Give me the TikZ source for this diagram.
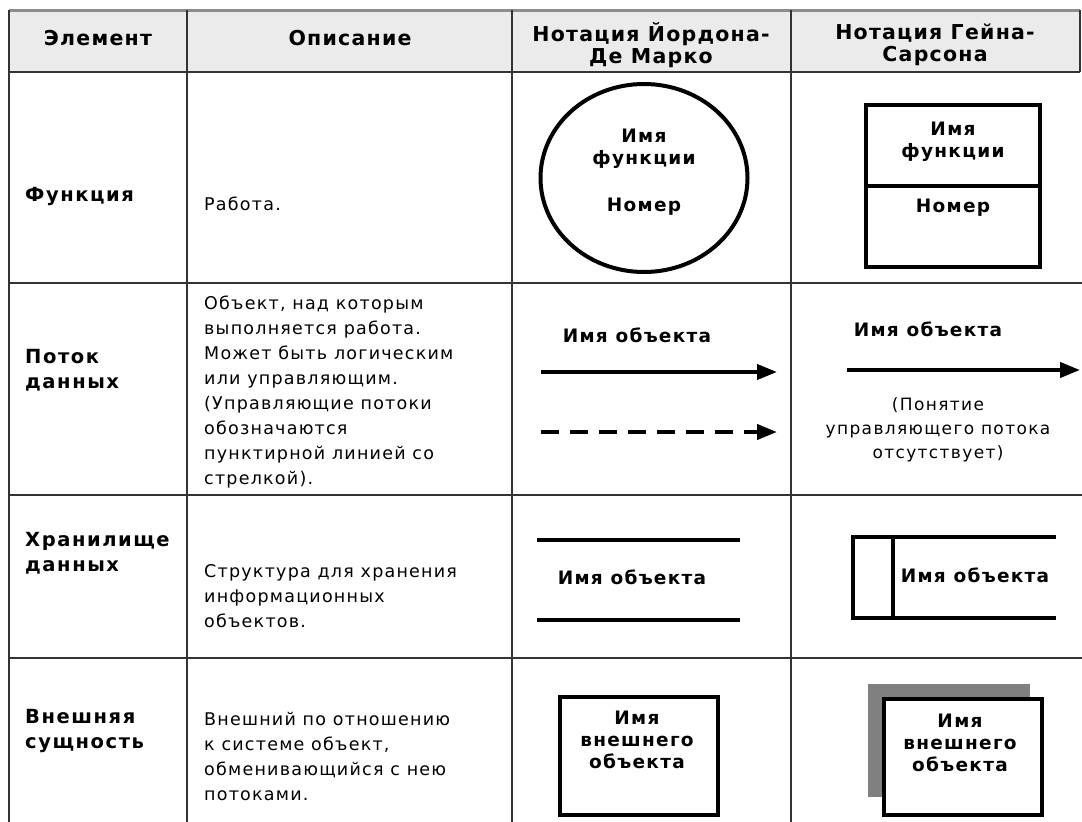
\documentclass[tikz,border=0pt]{standalone}
\usepackage{fontspec}
\setmainfont{DejaVu Sans}
\usetikzlibrary{arrows.meta,shapes.geometric}
\begin{document}
\begin{tikzpicture}[x=1pt,y=-1pt,
  grid/.style={draw=black!80, line width=1.8pt},
  shp/.style={draw=black, line width=4pt},
  hdr/.style={font=\addfontfeatures{LetterSpace=6}\bfseries\fontsize{20.5}{22}\selectfont, align=center, inner sep=0pt},
  lbl/.style={font=\addfontfeatures{LetterSpace=8}\bfseries\fontsize{19.5}{25}\selectfont, align=left, anchor=west, inner sep=0pt},
  desc/.style={font=\addfontfeatures{LetterSpace=7}\fontsize{17.5}{25}\selectfont, align=left, anchor=west, inner sep=0pt},
  sym/.style={font=\addfontfeatures{LetterSpace=7}\bfseries\fontsize{18.5}{22}\selectfont, align=center, inner sep=0pt},
  note/.style={font=\addfontfeatures{LetterSpace=8}\fontsize{17}{24}\selectfont, align=center, inner sep=0pt},
  flow/.style={line width=4pt, -{Triangle[length=20pt,width=15pt]}},
]
\useasboundingbox (0,0) rectangle (1082,822);
\fill[white] (0,0) rectangle (1082,822);
% header
\fill[black!8] (9,10) rectangle (1080,72);
\draw[black!45, line width=3pt] (9,10) -- (1080,10);
\draw[grid] (9,72) -- (1080,72);
\draw[grid] (1080,10) -- (1080,72);
\foreach \y in {283,495,658} \draw[grid] (9,\y) -- (1082,\y);
\foreach \x in {9,187,512,791} \draw[grid] (\x,10) -- (\x,822);

\node[hdr] (h1) at (98,38) {Элемент};
\node[hdr] (h2) at (350,38) {Описание};
\node[hdr] (h3) at (651,45) {Нотация Йордона-\\Де Марко};
\node[hdr] (h4) at (935,45) {Нотация Гейна-\\Сарсона};

% column 1
\node[lbl] (l1) at (25,196) {Функция};
\node[lbl] (l2) at (25,370) {Поток\\данных};
\node[lbl] (l3) at (25,553) {Хранилище\\данных};
\node[lbl] (l4) at (25,731) {Внешняя\\сущность};

% column 2
\node[desc] (d1) at (204,204) {Работа.};
\node[desc] (d2) at (204,392) {Объект, над которым\\выполняется работа.\\Может быть логическим\\или управляющим.\\(Управляющие потоки\\обозначаются\\пунктирной линией со\\стрелкой).};
\node[desc] (d3) at (204,596) {Структура для хранения\\информационных\\объектов.};
\node[desc] (d4) at (204,756) {Внешний по отношению\\к системе объект,\\обменивающийся с нею\\потоками.};

% row 1: function
\node[shp, ellipse, minimum width=207pt, minimum height=188pt, inner sep=0pt] (fc) at (644,178) {};
\node[sym] (fcn) at (644,149) {Имя\\функции};
\node[sym] (fcnum) at (644,207) {Номер};
\node[shp, rectangle, minimum width=174pt, minimum height=162pt, inner sep=0pt] (gf) at (953,186) {};
\coordinate (gfl) at (866,186);
\coordinate (gfr) at (1040,186);
\draw[shp] (gfl) -- (gfr);
\node[sym] (gfn) at (953,142) {Имя\\функции};
\node[sym] (gfnum) at (953,208) {Номер};

% row 2: data flow
\node[sym] (fo1) at (637,335) {Имя объекта};
\coordinate (a1s) at (541,372);
\coordinate (a1e) at (777,372);
\draw[flow] (a1s) -- (a1e);
\coordinate (a2s) at (541,432);
\coordinate (a2e) at (777,432);
\draw[flow, dash pattern=on 18pt off 11pt] (a2s) -- (a2e);
\node[sym] (fo2) at (928,329) {Имя объекта};
\coordinate (a3s) at (847,370);
\coordinate (a3e) at (1080,370);
\draw[flow] (a3s) -- (a3e);
\node[note] (nt) at (938,430) {(Понятие\\управляющего потока\\отсутствует)};

% row 3: data store
\coordinate (s1a) at (537,540);
\coordinate (s1b) at (740,540);
\coordinate (s2a) at (537,620);
\coordinate (s2b) at (740,620);
\draw[shp] (s1a) -- (s1b);
\draw[shp] (s2a) -- (s2b);
\node[sym] (so1) at (632,577) {Имя объекта};
\coordinate (gs1) at (1056,537);
\coordinate (gs2) at (1056,618);
\draw[shp] (gs1) -- (853,537) -- (853,618) -- (gs2);
\coordinate (gsd1) at (893,537);
\coordinate (gsd2) at (893,618);
\draw[shp] (gsd1) -- (gsd2);
\node[sym] (so2) at (975,575) {Имя объекта};

% row 4: external entity
\node[shp, rectangle, minimum width=158pt, minimum height=118pt, inner sep=0pt, anchor=north west] (e1) at (558,695) {};
\node[sym] (e1t) at (637,740) {Имя\\внешнего\\объекта};
\fill[black!50] (868,684) rectangle (1030,797);
\node[shp, rectangle, fill=white, minimum width=158pt, minimum height=116pt, inner sep=0pt, anchor=north west] (e2) at (882,697) {};
\node[sym] (e2t) at (960,743) {Имя\\внешнего\\объекта};
\end{tikzpicture}
\end{document}
